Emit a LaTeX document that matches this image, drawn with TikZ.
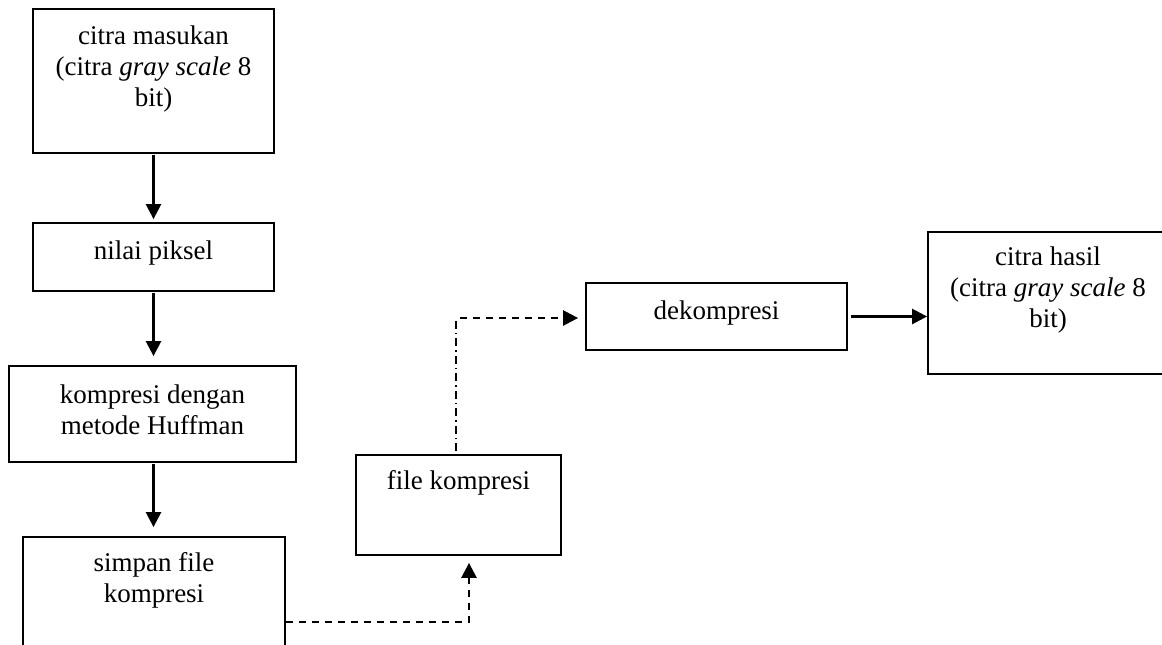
\documentclass[tikz,border=0pt]{standalone}
\usepackage{fontspec}
\setmainfont{Liberation Serif}
\usetikzlibrary{arrows.meta,fit}

\begin{document}
\begin{tikzpicture}[x=1pt,y=-1pt,
  box/.style={draw,line width=1.8pt,inner sep=0pt},
  lbl/.style={align=center,inner sep=0pt,font=\fontsize{27}{31}\selectfont},
  tip/.style={-{Triangle[length=15pt,width=15pt]}},
  flow/.style={tip,line width=2.5pt},
  dsh/.style={line width=2.5pt,dash pattern=on 7pt off 6pt},
  dshdot/.style={line width=1.4pt,dash pattern=on 8pt off 4pt on 1.5pt off 4pt}]
\useasboundingbox (0,0) rectangle (1162,645);
\clip (0,0) rectangle (1162,645);

% boxes
\node[box,fit={(33,9)(274,153)}] (b1) {};
\node[box,fit={(33,223)(274,291)}] (b2) {};
\node[box,fit={(9,366)(296,462)}] (b3) {};
\node[box,fit={(23,537)(285,680)}] (b4) {};
\node[box,fit={(356,455)(561,555)}] (fk) {};
\node[box,fit={(586,283)(847,350)}] (dk) {};
\node[box,fit={(928,232)(1170,374)}] (ch) {};

% labels
\node[lbl] (t1) at (153.5,69) {citra masukan\\(citra \textit{gray scale} 8\\bit)};
\node[lbl] (t2) at (153.5,253) {nilai piksel};
\node[lbl] (t3) at (152.5,410) {kompresi dengan\\metode Huffman};
\node[lbl] (t4) at (154,580) {simpan file\\kompresi};
\node[lbl] (t5) at (458.5,483) {file kompresi};
\node[lbl] (t6) at (716.5,313) {dekompresi};
\node[lbl] (t7) at (1048,290) {citra hasil\\(citra \textit{gray scale} 8\\bit)};

% solid flow
\draw[flow,shorten <=1pt,shorten >=3pt] (b1.south) -- (b1.south |- b2.north);
\draw[flow,shorten <=1pt,shorten >=9pt] (b2.south) -- (b2.south |- b3.north);
\draw[flow,shorten <=1pt,shorten >=9pt] (b2.south |- b3.south) -- (b2.south |- b4.north);
\draw[flow,shorten <=3pt] (dk.east) -- (dk.east -| ch.west);

% dashed connections
\coordinate (c1) at (469,623);
\coordinate (c2) at (456,318);
\draw[dsh,tip,shorten >=7pt] ([yshift=-86pt]b4.north east) -| (c1 |- fk.south);
\draw[dshdot] ([xshift=-2.5pt,yshift=3pt]fk.north) -- (c2);
\draw[dsh,tip,shorten <=4pt,shorten >=7pt] (c2) -- (c2 -| dk.west);
\end{tikzpicture}
\end{document}
